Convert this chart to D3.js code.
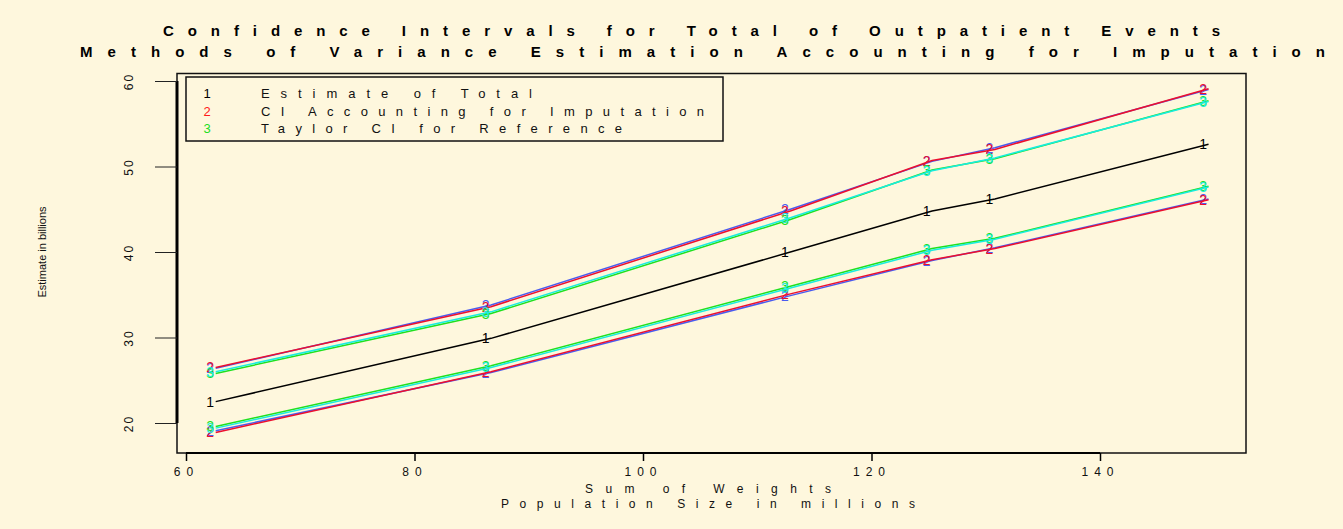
<!DOCTYPE html>
<html>
<head>
<meta charset="utf-8">
<script src="https://cdn.jsdelivr.net/npm/d3@7"></script>
<style>
  body { margin: 0; background: #fef7dd; }
  svg { display: block; font-family: 'Liberation Sans', Arial, sans-serif; }
</style>
</head>
<body>
<svg id="chart"></svg>
<script>
const width = 1343;
const height = 529;

// values
const sumWeights = [62.6, 86.7, 112.9, 125.3, 130.8, 149.5];
const estimate   = [22.5, 29.9, 40.0, 44.8, 46.2, 52.6];
const impUpper   = [26.5, 33.6, 44.8, 50.7, 52.0, 59.1];
const impUpper2  = [26.4, 33.8, 45.0, 50.6, 52.2, 59.0];
const impLower   = [18.9, 26.0, 35.1, 39.1, 40.4, 46.1];
const impLower2  = [19.1, 25.9, 34.9, 39.0, 40.5, 46.2];
const taylorUpper  = [25.8, 32.8, 43.8, 49.6, 50.9, 57.7];
const taylorUpper2 = [26.0, 33.0, 44.0, 49.5, 51.0, 57.6];
const taylorLower  = [19.6, 26.7, 36.0, 40.4, 41.6, 47.7];
const taylorLower2 = [19.4, 26.5, 35.8, 40.2, 41.5, 47.6];

const xTicks = [60, 80, 100, 120, 140];
const yTicks = [20, 30, 40, 50, 60];
const legendKeys = ['1', '2', '3'];
const legendLabels = ['Estimate of Total', 'CI Accounting for Imputation', 'Taylor CI for Reference'];
const titleLines = ['Confidence Intervals for Total of Outpatient Events',
                    'Methods of Variance Estimation Accounting for Imputation'];
const xTitleLines = ['Sum of Weights', 'Population Size in millions'];

const series = [
  {vals: impUpper2, key: '2', color: '#4a5cf0'},
  {vals: impLower2, key: '2', color: '#4a5cf0'},
  {vals: impUpper, key: '2', color: '#ec0f2e'},
  {vals: impLower, key: '2', color: '#ec0f2e'},
  {vals: taylorUpper, key: '3', color: '#1fe01f'},
  {vals: taylorLower, key: '3', color: '#1fe01f'},
  {vals: taylorUpper2, key: '3', color: '#19ecdf'},
  {vals: taylorLower2, key: '3', color: '#19ecdf'},
  {vals: estimate, key: '1', color: '#000000'}
];
const legendColors = ['#000000', '#ff1a1a', '#22dd22'];

const svg = d3.select('#chart').attr('width', width).attr('height', height);
svg.append('rect').attr('width', width).attr('height', height).attr('fill', '#fef7dd');

const x = d3.scaleLinear().domain([60, 140]).range([186, 1100]);
const y = d3.scaleLinear().domain([20, 60]).range([423, 81]);

// plot frame
svg.append('rect')
  .attr('x', 177).attr('y', 73.5)
  .attr('width', 1246 - 177).attr('height', 453 - 73.5)
  .attr('fill', 'none').attr('stroke', '#111').attr('stroke-width', 1.5);

// y axis
const yAxis = svg.append('g').attr('transform', 'translate(177,0)')
  .call(d3.axisLeft(y).tickValues(yTicks).tickSize(22).tickFormat(d3.format('d')));
yAxis.select('.domain').attr('stroke', '#000').attr('stroke-width', 3)
  .attr('d', `M0,${y(20)}V${y(60)}`);
yAxis.selectAll('.tick line').attr('stroke', '#222');
yAxis.selectAll('.tick text')
  .attr('font-size', 12).attr('fill', '#111')
  .attr('x', 0).attr('dy', 0)
  .attr('transform', 'translate(-47,0) rotate(-90)')
  .attr('text-anchor', 'middle').attr('dominant-baseline', 'middle')
  .attr('letter-spacing', 2);

// x axis
const xAxis = svg.append('g').attr('transform', 'translate(0,453)')
  .call(d3.axisBottom(x).tickValues(xTicks).tickSize(8).tickFormat(d3.format('d')));
xAxis.select('.domain').attr('stroke', '#000').attr('stroke-width', 2)
  .attr('d', `M${x(60)},0H${x(140)}`);
xAxis.selectAll('.tick line').attr('stroke', '#000').attr('stroke-width', 1.5);
xAxis.selectAll('.tick text')
  .attr('font-size', 12).attr('fill', '#111').attr('y', 20).attr('dy', 0)
  .attr('dominant-baseline', 'middle').attr('letter-spacing', 6);

// lines and labels
const line = d3.line().x((d, i) => x(sumWeights[i])).y(d => y(d));

series.forEach(s => {
  svg.append('path')
    .datum(s.vals)
    .attr('fill', 'none')
    .attr('stroke', s.color)
    .attr('stroke-width', 1.5)
    .attr('d', line);
  svg.selectAll(null)
    .data(s.vals)
    .enter().append('text')
    .attr('x', (d, i) => x(sumWeights[i]) - 5.5)
    .attr('y', d => y(d))
    .attr('text-anchor', 'middle')
    .attr('dominant-baseline', 'central')
    .attr('font-size', 14)
    .attr('fill', s.color)
    .text(s.key);
});

// legend
const legend = svg.append('g');
legend.append('rect')
  .attr('x', 186).attr('y', 77).attr('width', 723 - 186).attr('height', 141 - 77)
  .attr('fill', '#fef7dd').attr('stroke', '#111').attr('stroke-width', 1.5);
legendKeys.forEach((k, i) => {
  const ly = 95 + i * 17.5;
  legend.append('text')
    .attr('x', 207).attr('y', ly)
    .attr('text-anchor', 'middle').attr('dominant-baseline', 'middle')
    .attr('font-size', 13).attr('fill', legendColors[i])
    .text(k);
  legend.append('text')
    .attr('x', 261).attr('y', ly)
    .attr('dominant-baseline', 'middle')
    .attr('font-size', 13).attr('fill', '#111')
    .attr('textLength', [271, 443, 361][i]).attr('lengthAdjust', 'spacing')
    .text(legendLabels[i]);
});

// titles
svg.append('text')
  .attr('x', 163).attr('y', 32)
  .attr('dominant-baseline', 'middle')
  .attr('font-family', "'Liberation Sans Narrow', 'Liberation Sans', sans-serif")
  .attr('font-size', 15).attr('font-weight', 'bold').attr('fill', '#000')
  .attr('textLength', 1220 - 163).attr('lengthAdjust', 'spacing')
  .text(titleLines[0]);
svg.append('text')
  .attr('x', 80).attr('y', 53)
  .attr('dominant-baseline', 'middle')
  .attr('font-family', "'Liberation Sans Narrow', 'Liberation Sans', sans-serif")
  .attr('font-size', 15).attr('font-weight', 'bold').attr('fill', '#000')
  .attr('textLength', 1325 - 80).attr('lengthAdjust', 'spacing')
  .text(titleLines[1]);

svg.append('text')
  .attr('x', 585).attr('y', 490)
  .attr('dominant-baseline', 'middle')
  .attr('font-size', 12).attr('fill', '#111')
  .attr('textLength', 831 - 585).attr('lengthAdjust', 'spacing')
  .text(xTitleLines[0]);
svg.append('text')
  .attr('x', 501).attr('y', 505)
  .attr('dominant-baseline', 'middle')
  .attr('font-size', 12).attr('fill', '#111')
  .attr('textLength', 915 - 501).attr('lengthAdjust', 'spacing')
  .text(xTitleLines[1]);

svg.append('text')
  .attr('transform', 'translate(43,252) rotate(-90)')
  .attr('text-anchor', 'middle').attr('dominant-baseline', 'middle')
  .attr('font-size', 11).attr('fill', '#111')
  .text('Estimate in billions');
</script>
</body>
</html>
